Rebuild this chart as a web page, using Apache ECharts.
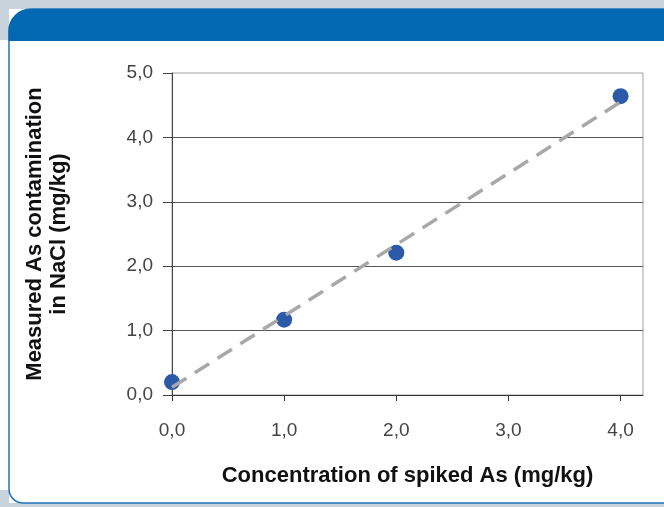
<!DOCTYPE html>
<html>
<head>
<meta charset="utf-8">
<script src="https://cdn.jsdelivr.net/npm/echarts@6/dist/echarts.min.js"></script>
<style>
html,body{margin:0;padding:0;background:#ffffff;}
#c{width:664px;height:507px;}
</style>
</head>
<body>
<div id="c"></div>
<script>
// Data
const spiked = [0, 1, 2, 4];
const measured = [0.2, 1.17, 2.21, 4.64];
const trendX = [0, 4];
const trendY = [0.12, 4.55];
const xTicks = [0, 1, 2, 3, 4];
const xTitle = 'Concentration of spiked As (mg/kg)';
const yTitle = 'Measured As contamination\nin NaCl (mg/kg)';

const points = spiked.map((x, i) => [x, measured[i]]);
const trend = trendX.map((x, i) => [x, trendY[i]]);
const fmt = v => v.toFixed(1).replace('.', ',');

const chart = echarts.init(document.getElementById('c'), null, {renderer: 'canvas'});
chart.setOption({
  animation: false,
  backgroundColor: '#ffffff',
  graphic: [
    {type: 'rect', z: -10, silent: true, shape: {x: 0, y: 0, width: 664, height: 9}, style: {fill: '#c8d3db'}},
    {type: 'rect', z: -10, silent: true, shape: {x: 0, y: 0, width: 9, height: 40}, style: {fill: '#c8d3db'}},
    {type: 'rect', z: -10, silent: true, shape: {x: 0, y: 503, width: 664, height: 4}, style: {fill: '#c8d3db'}},
    {type: 'rect', z: -10, silent: true, shape: {x: 0, y: 490, width: 9, height: 17}, style: {fill: '#c8d3db'}},
    {type: 'rect', z: -9, silent: true, shape: {x: 9, y: 9, width: 720, height: 494, r: [22, 0, 0, 14]}, style: {fill: '#ffffff', stroke: '#1f74bd', lineWidth: 1.5}},
    {type: 'rect', z: -8, silent: true, shape: {x: 8.5, y: 9, width: 720, height: 32, r: [22, 0, 0, 0]}, style: {fill: '#0368b2'}}
  ],
  grid: {left: 172, top: 73, right: 21, bottom: 112, show: true, borderColor: '#a0a0a0', borderWidth: 1, backgroundColor: 'transparent'},
  xAxis: {
    type: 'value', min: 0, max: 4.2, interval: 1,
    name: xTitle, nameLocation: 'middle', nameGap: 70,
    nameTextStyle: {fontFamily: 'Liberation Sans', fontSize: 22, fontWeight: 'bold', color: '#111'},
    axisLine: {show: true, onZero: false, lineStyle: {color: '#333', width: 1}},
    axisTick: {show: true, length: 6, customValues: xTicks, lineStyle: {color: '#333'}},
    axisLabel: {customValues: xTicks, margin: 26, formatter: fmt, fontFamily: 'Liberation Sans', fontSize: 19, color: '#444'},
    splitLine: {show: false}
  },
  yAxis: {
    type: 'value', min: 0, max: 5, interval: 1,
    name: yTitle, nameLocation: 'middle', nameGap: 101, nameRotate: 90,
    nameTextStyle: {fontFamily: 'Liberation Sans', fontSize: 22, fontWeight: 'bold', color: '#111', lineHeight: 24},
    axisLine: {show: true, onZero: false, lineStyle: {color: '#444', width: 1}},
    axisTick: {show: true, length: 9, lineStyle: {color: '#444'}},
    axisLabel: {margin: 19, formatter: fmt, fontFamily: 'Liberation Sans', fontSize: 19, color: '#444'},
    splitLine: {show: true, showMaxLine: false, lineStyle: {color: '#555', width: 1}}
  },
  series: [
    {
      type: 'line', data: trend, symbol: 'none', z: 3,
      lineStyle: {color: '#a8a8a8', width: 3.5, type: [17, 10]}
    },
    {
      type: 'scatter', data: points, symbol: 'circle', symbolSize: 16, z: 2,
      itemStyle: {color: '#2b5ba8', opacity: 1}
    }
  ]
});
</script>
</body>
</html>
